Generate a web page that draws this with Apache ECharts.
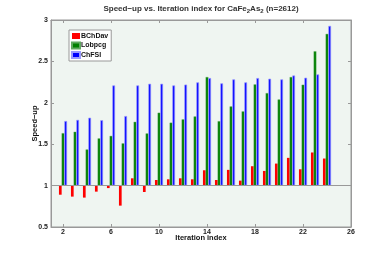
<!DOCTYPE html>
<html><head><meta charset="utf-8">
<script src="https://cdn.jsdelivr.net/npm/echarts@6/dist/echarts.min.js"></script>
<style>html,body{margin:0;padding:0;background:#fff}#c{width:387px;height:254px}</style>
</head><body><div id="c"></div>
<script>
const iterations = [2,3,4,5,6,7,8,9,10,11,12,13,14,15,16,17,18,19,20,21,22,23,24];
const bchdav = [0.89,0.867,0.855,0.927,0.97,0.758,1.088,0.923,1.068,1.076,1.088,1.076,1.185,1.068,1.19,1.06,1.234,1.177,1.266,1.335,1.197,1.40,1.327];
const lobpcg = [1.633,1.65,1.436,1.57,1.60,1.51,1.77,1.63,1.88,1.76,1.80,1.835,2.311,1.778,1.956,1.896,2.222,2.117,2.04,2.311,2.218,2.622,2.832];
const chfsi = [1.78,1.794,1.82,1.79,2.21,1.84,2.21,2.23,2.23,2.21,2.22,2.247,2.299,2.235,2.283,2.247,2.299,2.291,2.283,2.33,2.303,2.343,2.929];
const xTicks = [2,6,10,14,18,22,26];
const baseline = 1;

const chart = echarts.init(document.getElementById('c'), null, {renderer:'canvas'});
const toData = arr => iterations.map((x,i)=>[x, arr[i]-baseline]);
const lblStyle = {fontFamily:'Liberation Sans, Arial', fontWeight:'bold', fontSize:7, color:'#222'};
const axisLine = {show:true, onZero:false, lineStyle:{color:'#999', width:1}};
chart.setOption({
  animation:false,
  backgroundColor:'#fff',
  title:{
    text:'Speed\u2212up vs. Iteration index for CaFe{s|2}As{s|2} (n=2612)',
    left:196, textAlign:'center', top:-2,
    textStyle:{fontFamily:'Liberation Sans, Arial', fontWeight:'bold', fontSize:8, color:'#333',
      rich:{s:{fontFamily:'Liberation Sans, Arial', fontWeight:'bold', fontSize:6, color:'#333', verticalAlign:'bottom', padding:[5,0,0,0]}}}
  },
  legend:{
    orient:'vertical', left:69, top:30,
    backgroundColor:'#fff', borderColor:'#999', borderWidth:1, borderRadius:0,
    padding:[2,3,2,2], itemGap:1.5, itemWidth:8, itemHeight:6, icon:'rect',
    textStyle:{fontFamily:'Liberation Sans, Arial', fontWeight:'bold', fontSize:7, color:'#111', lineHeight:8, padding:[0,0,0,-4]},
    data:['BChDav','Lobpcg','ChFSI']
  },
  grid:{left:51, right:36, top:20, bottom:27, show:true, backgroundColor:'#eff5f1', borderColor:'#999', borderWidth:1},
  xAxis:[{
    type:'value', min:1, max:26,
    name:'Iteration index', nameLocation:'middle', nameGap:7, nameMoveOverlap:false,
    nameTextStyle:{fontFamily:'Liberation Sans, Arial', fontWeight:'bold', fontSize:7.5, color:'#111', verticalAlign:'top', padding:[0,0,0,0]},
    axisLine:axisLine, splitLine:{show:false},
    axisTick:{show:true, inside:true, length:3, customValues:xTicks, lineStyle:{color:'#999'}},
    axisLabel:Object.assign({customValues:xTicks, margin:2}, lblStyle)
  },{
    type:'value', min:1, max:26, position:'top',
    axisLine:axisLine, splitLine:{show:false},
    axisTick:{show:true, inside:true, length:3, customValues:xTicks, lineStyle:{color:'#999'}},
    axisLabel:{show:false}
  }],
  yAxis:[{
    type:'value', min:-0.5, max:2, interval:0.5,
    name:'Speed\u2212up', nameLocation:'middle', nameGap:12, nameMoveOverlap:false,
    nameTextStyle:{fontFamily:'Liberation Sans, Arial', fontWeight:'bold', fontSize:7.5, color:'#111'},
    axisLine:axisLine, splitLine:{show:false},
    axisTick:{show:true, inside:true, length:3, lineStyle:{color:'#999'}},
    axisLabel:Object.assign({margin:3, formatter:v=>String(+(v+baseline).toFixed(2))}, lblStyle)
  },{
    type:'value', min:-0.5, max:2, interval:0.5, position:'right',
    axisLine:axisLine, splitLine:{show:false},
    axisTick:{show:true, inside:true, length:3, lineStyle:{color:'#999'}},
    axisLabel:{show:false}
  }],
  series:[
    {name:'BChDav', type:'bar', data:toData(bchdav), barWidth:2.7, barGap:'0%', itemStyle:{color:'#ff0000'},
     markLine:{silent:true, symbol:'none', label:{show:false}, lineStyle:{color:'#999', width:1, type:'solid'}, data:[{yAxis:0}]}},
    {name:'Lobpcg', type:'bar', data:toData(lobpcg), barWidth:2.7, barGap:'0%', itemStyle:{color:'#008000', borderColor:'#5faa5f', borderWidth:0.4}},
    {name:'ChFSI', type:'bar', data:toData(chfsi), barWidth:2.7, barGap:'0%', itemStyle:{color:'#0000ff', borderColor:'#9a9aff', borderWidth:0.7}}
  ]
});
</script></body></html>
